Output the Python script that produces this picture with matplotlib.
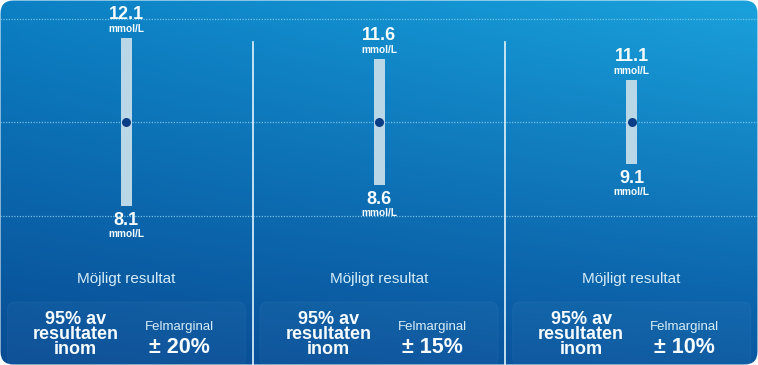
import numpy as np
import matplotlib.pyplot as plt
import matplotlib.transforms as mtransforms
from matplotlib.patches import FancyBboxPatch

# --- Data (mmol/L) ---
centrum = 10.1
övre_gräns = [12.1, 11.6, 11.1]
nedre_gräns = [8.1, 8.6, 9.1]
felmarginal = ["± 20%", "± 15%", "± 10%"]
enhet = "mmol/L"
rubrik = "Möjligt resultat"
inom_text = "95% av\nresultaten\ninom"

# --- Layout ---
W, H = 758, 365          # pixels
PX_PER_UNIT = 42         # vertical scale
CENTER_PX = 122          # pixel row of the centre value

plt.rcParams['font.family'] = ['Liberation Sans', 'DejaVu Sans']

fig = plt.figure(figsize=(W / 100, H / 100), dpi=100)
fig.patch.set_facecolor('white')

# Background axes in pixel coordinates (gradient + rounded panel)
bg = fig.add_axes([0, 0, 1, 1])
bg.set_xlim(0, W)
bg.set_ylim(H, 0)
bg.axis('off')

yy, xx = np.mgrid[0:1:H * 1j, 0:1:W * 1j]
xx, yy = xx[..., None], yy[..., None]
tl = np.array([12, 128, 196]); tr = np.array([26, 162, 220])
bl = np.array([9, 76, 148]); br = np.array([10, 88, 162])
top = tl * (1 - xx) + tr * xx
bot = bl * (1 - xx) + br * xx
img = (top * (1 - yy) + bot * yy) / 255
im = bg.imshow(img, extent=(0, W, H, 0), aspect='auto', interpolation='bilinear', zorder=0)
clip = FancyBboxPatch((0.5, 0.5), W - 1, H - 1, boxstyle='round,pad=0,rounding_size=13',
                      transform=bg.transData, facecolor='none', edgecolor='none')
bg.add_patch(clip)
im.set_clip_path(clip)

# faint boxes behind the bottom texts
for i in range(len(övre_gräns)):
    cx = (i + 0.5) * W / len(övre_gräns)
    box = FancyBboxPatch((cx - 119, 302), 238, 64, boxstyle='round,pad=0,rounding_size=8',
                         facecolor=(1, 1, 1, 0.03), edgecolor=(1, 1, 1, 0.04), lw=0.8, zorder=1)
    bg.add_patch(box)
    box.set_clip_path(clip)

# --- Data axes ---
ax = fig.add_axes([0, 0, 1, 1], facecolor='none')
x = np.arange(len(övre_gräns))
ax.set_xlim(-0.5, len(x) - 0.5)
ax.set_ylim(centrum - (H - CENTER_PX) / PX_PER_UNIT, centrum + CENTER_PX / PX_PER_UNIT)
ax.axis('off')


def px_to_y(px):
    return centrum + (CENTER_PX - px) / PX_PER_UNIT


# dotted guide lines
for y in (px_to_y(19), centrum, px_to_y(216)):
    ax.axhline(y, color='#86cdef', lw=0.9, linestyle=(0, (1, 1.2)), alpha=0.85, zorder=2)

# dividers
for xd in x[:-1] + 0.5:
    ax.axvline(xd, ymin=0, ymax=1 - 42 / H, color='#e2f4fc', lw=1.2, zorder=2)

# range bars and centre dots
höjd = np.array(övre_gräns) - np.array(nedre_gräns)
ax.bar(x, höjd, bottom=nedre_gräns, width=11 / (W / 3), color='#b9d7e7', zorder=3)
ax.scatter(x, [centrum] * len(x), s=42, color='#0b3c86', zorder=4, linewidths=0)

trans = mtransforms.blended_transform_factory(ax.transData, ax.transAxes)
vit = '#f6fcff'
ljus = '#d6edf9'

for xi, hi, lo, fm in zip(x, övre_gräns, nedre_gräns, felmarginal):
    ax.annotate(f"{hi:.1f}", (xi, hi), xytext=(0, 19), textcoords='offset pixels',
                ha='center', va='baseline', fontsize=13, fontweight='bold', color=vit)
    ax.annotate(enhet, (xi, hi), xytext=(0, 6), textcoords='offset pixels',
                ha='center', va='baseline', fontsize=7.3, fontweight='bold', color=vit)
    ax.annotate(f"{lo:.1f}", (xi, lo), xytext=(0, -19), textcoords='offset pixels',
                ha='center', va='baseline', fontsize=13, fontweight='bold', color=vit)
    ax.annotate(enhet, (xi, lo), xytext=(0, -31), textcoords='offset pixels',
                ha='center', va='baseline', fontsize=7.3, fontweight='bold', color=vit)

    ax.text(xi, 1 - 283 / H, rubrik, transform=trans, ha='center', va='baseline',
            fontsize=11, color=ljus)
    # va='baseline' on multi-line text aligns the last line
    ax.text(xi - 0.2, 1 - 354 / H, inom_text, transform=trans, ha='center',
            va='baseline', fontsize=13, fontweight='bold', color=vit,
            multialignment='center', linespacing=0.85)
    ax.text(xi + 0.21, 1 - 330 / H, "Felmarginal", transform=trans, ha='center',
            va='baseline', fontsize=9.5, color=ljus)
    ax.text(xi + 0.21, 1 - 353 / H, fm, transform=trans, ha='center', va='baseline',
            fontsize=15.5, fontweight='bold', color=vit)

fig.savefig('out.png', dpi=100, facecolor='white')
